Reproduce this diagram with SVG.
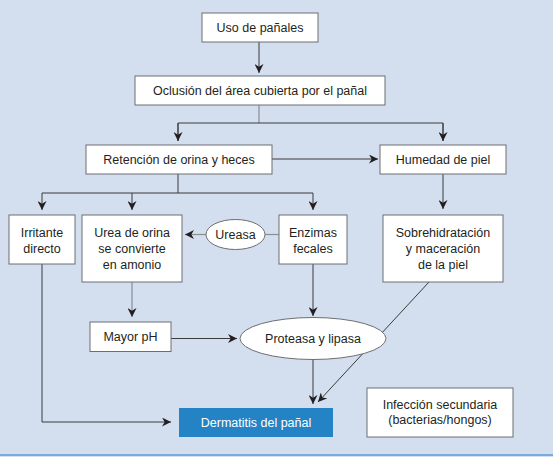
<svg xmlns="http://www.w3.org/2000/svg" width="553" height="457" viewBox="0 0 553 457">
<defs>
<marker id="ah" viewBox="0 0 10 10" refX="10" refY="5" markerWidth="9" markerHeight="9" markerUnits="userSpaceOnUse" orient="auto">
<path d="M0,0 L10,5 L0,10 L3,5 Z" fill="#231f20"/>
</marker>
<style>
.bx{fill:#fff;stroke:#6d6e71;stroke-width:1}
.t{font-family:"Liberation Sans",Arial,sans-serif;font-size:12.5px;fill:#231f20;text-anchor:middle}
.c{fill:none;stroke:#3a3a3a;stroke-width:1}
.g{fill:none;stroke:#8a8d91;stroke-width:1.2}
</style>
</defs>
<rect x="0" y="0" width="553" height="457" fill="#d3deef"/>
<line x1="0" y1="455" x2="553" y2="455" stroke="#5b9bd5" stroke-width="1.5"/>
<g id="connectors">
<path class="c" d="M259,42 V73" marker-end="url(#ah)"/>
<path class="g" d="M259,105 V123"/>
<path class="c" d="M178,123 H443 M178,123 V141 M443,123 V141"/>
<path class="c" d="M178,123 V141" marker-end="url(#ah)"/>
<path class="c" d="M443,123 V141" marker-end="url(#ah)"/>
<path class="c" d="M272,159 H378" marker-end="url(#ah)"/>
<path class="c" d="M178,174 V193 M42,193 H313"/>
<path class="c" d="M42,193 V210" marker-end="url(#ah)"/>
<path class="c" d="M132,193 V210" marker-end="url(#ah)"/>
<path class="c" d="M313,193 V210" marker-end="url(#ah)"/>
<path class="c" d="M443,174 V209" marker-end="url(#ah)"/>
<path class="g" d="M279,234.5 H265"/>
<path class="g" d="M206,234.5 H185" marker-end="url(#ah)"/>
<path class="g" d="M132,282 V317" marker-end="url(#ah)"/>
<path class="c" d="M313,264 V316" marker-end="url(#ah)"/>
<path class="c" d="M171,338.5 H237" marker-end="url(#ah)"/>
<path class="c" d="M313,359 V404" marker-end="url(#ah)"/>
<path class="c" d="M429,282 L318,402" marker-end="url(#ah)"/>
<path class="c" d="M42,264 V422 H171" marker-end="url(#ah)"/>
</g>
<g id="uso"><rect class="bx" x="202" y="13" width="116" height="29"/><text class="t" x="260" y="32">Uso de pañales</text></g>
<g id="oclusion"><rect class="bx" x="135" y="76" width="250" height="29"/><text class="t" x="260" y="95">Oclusión del área cubierta por el pañal</text></g>
<g id="retencion"><rect class="bx" x="86" y="145" width="186" height="29"/><text class="t" x="179" y="164">Retención de orina y heces</text></g>
<g id="humedad"><rect class="bx" x="380" y="145" width="126" height="29"/><text class="t" x="443" y="164">Humedad de piel</text></g>
<g id="irritante"><rect class="bx" x="9" y="215" width="66" height="49"/><text class="t" x="42" y="236.5">Irritante</text><text class="t" x="42" y="252.5">directo</text></g>
<g id="urea"><rect class="bx" x="82" y="215" width="100" height="67"/><text class="t" x="132" y="236.5">Urea de orina</text><text class="t" x="132" y="252.5">se convierte</text><text class="t" x="132" y="268.5">en amonio</text></g>
<g id="ureasa"><ellipse class="bx" cx="235.5" cy="234.5" rx="29.5" ry="15"/><text class="t" x="235.5" y="239">Ureasa</text></g>
<g id="enzimas"><rect class="bx" x="279" y="215" width="68" height="49"/><text class="t" x="313" y="236.5">Enzimas</text><text class="t" x="313" y="252.5">fecales</text></g>
<g id="sobrehidratacion"><rect class="bx" x="383" y="215" width="120" height="67"/><text class="t" x="443" y="236.5">Sobrehidratación</text><text class="t" x="443" y="252.5">y maceración</text><text class="t" x="443" y="268.5">de la piel</text></g>
<g id="mayorph"><rect class="bx" x="90" y="322" width="81" height="29.5"/><text class="t" x="130.5" y="341">Mayor pH</text></g>
<g id="proteasa"><ellipse class="bx" cx="313" cy="338.5" rx="73" ry="21"/><text class="t" x="313" y="343">Proteasa y lipasa</text></g>
<g id="dermatitis"><rect x="179" y="408" width="154" height="29" fill="#2383c4"/><text class="t" x="256" y="427" style="fill:#fff">Dermatitis del pañal</text></g>
<g id="infeccion"><rect class="bx" x="367" y="388" width="146" height="49"/><text class="t" x="440" y="408.5">Infección secundaria</text><text class="t" x="440" y="424">(bacterias/hongos)</text></g>
</svg>
